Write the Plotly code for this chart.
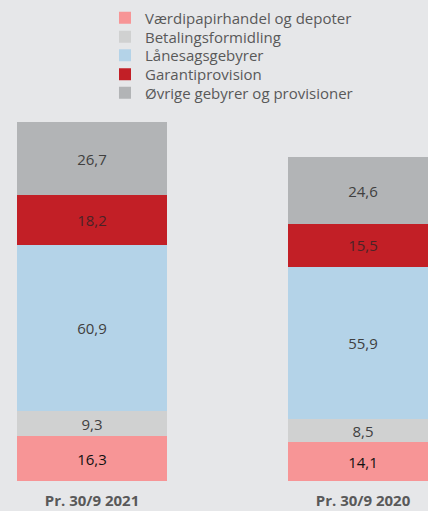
import plotly.graph_objects as go

categories = ["Pr. 30/9 2021", "Pr. 30/9 2020"]
series_names = [
    "Værdipapirhandel og depoter",
    "Betalingsformidling",
    "Lånesagsgebyrer",
    "Garantiprovision",
    "Øvrige gebyrer og provisioner",
]
vaerdipapir = [16.3, 14.1]
betaling = [9.3, 8.5]
laanesag = [60.9, 55.9]
garanti = [18.2, 15.5]
oevrige = [26.7, 24.6]

series_values = [vaerdipapir, betaling, laanesag, garanti, oevrige]
colors = ["#f79596", "#d0d1d1", "#b4d3e8", "#c21f26", "#b2b4b6"]
text_colors = ["#111111", "#404040", "#404040", "#4a2326", "#404040"]

FONT = "Open Sans"
PLOT_H = 481  # plot area height in px (t=0, b=30)
legend_rows_px = [18, 37, 55.5, 74.5, 93]

fig = go.Figure()
layout_legends = {}
for i, (name, vals, col, tcol) in enumerate(zip(series_names, series_values, colors, text_colors)):
    lname = "legend" if i == 0 else f"legend{i + 1}"
    fig.add_trace(go.Bar(
        x=[0, 1],
        y=vals,
        name=name,
        legend=lname,
        marker=dict(color=col, line=dict(width=0)),
        text=[f"{v:.1f}".replace(".", ",") for v in vals],
        textposition="inside",
        insidetextanchor="middle",
        constraintext="none",
        textangle=0,
        textfont=dict(family=FONT, size=15, color=tcol),
        insidetextfont=dict(family=FONT, size=15, color=tcol),
        hoverinfo="skip",
    ))
    layout_legends[lname] = dict(
        orientation="v",
        x=0.2453,
        xanchor="left",
        y=1 - legend_rows_px[i] / PLOT_H,
        yanchor="middle",
        bgcolor="rgba(0,0,0,0)",
        font=dict(family=FONT, size=15, color="#595959"),
        itemwidth=30,
    )

fig.update_layout(
    width=428,
    height=511,
    barmode="stack",
    bargap=0.4465,
    paper_bgcolor="#e6e7e9",
    plot_bgcolor="#e6e7e9",
    margin=dict(l=0, r=0, t=0, b=30, autoexpand=False),
    font=dict(family=FONT, size=15, color="#595959"),
    showlegend=True,
    **layout_legends,
)
fig.update_xaxes(
    range=[-0.3395, 1.2399],
    tickmode="array",
    tickvals=[0, 1],
    ticktext=[f"<b>{c}</b>" for c in categories],
    tickfont=dict(family=FONT, size=15, color="#595959"),
    ticklabelstandoff=9,
    showgrid=False,
    zeroline=False,
    showline=False,
    ticks="",
)
fig.update_yaxes(
    range=[0, 176.1],
    visible=False,
    showgrid=False,
    zeroline=False,
)

fig.write_html(
    "out.html",
    config={"displayModeBar": False},
    post_script="document.body.style.margin='0';document.body.style.overflow='hidden';",
)
